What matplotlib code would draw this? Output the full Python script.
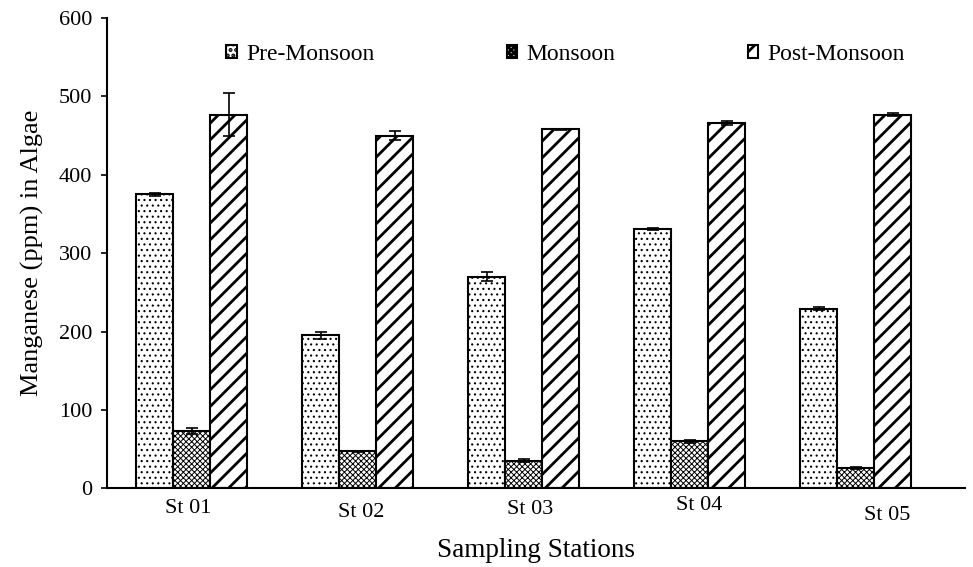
import numpy as np
import matplotlib
matplotlib.use("Agg")
import matplotlib.pyplot as plt
import matplotlib.transforms as mtransforms

stations = ["St 01", "St 02", "St 03", "St 04", "St 05"]
pre_monsoon = [375, 195, 270, 331, 229]
pre_err = [2, 4, 6, 1, 2]
monsoon = [73, 47, 35, 60, 26]
monsoon_err = [4, 1, 2, 2, 1]
post_monsoon = [477, 450, 458, 466, 477]
post_err = [28, 6, 1, 3, 2]

plt.rcParams["font.family"] = ["Liberation Serif", "DejaVu Serif"]
plt.rcParams["hatch.color"] = "black"

fig = plt.figure(figsize=(9.73, 5.67), dpi=100)
ax = fig.add_axes([0.110, 0.139, 0.882, 0.829])

x = np.arange(len(stations))
w = 0.223
err_kw = dict(ecolor="black", elinewidth=1.2, capsize=4.5, capthick=1.2)

plt.rcParams["hatch.linewidth"] = 0.8
ax.bar(x - w, pre_monsoon, w, yerr=pre_err, color="white", edgecolor="black",
       linewidth=1.5, hatch="...", label="Pre-Monsoon", error_kw=err_kw)
plt.rcParams["hatch.linewidth"] = 0.7
ax.bar(x, monsoon, w, yerr=monsoon_err, color="white", edgecolor="black",
       linewidth=1.5, hatch="xxxxxx", label="Monsoon", error_kw=err_kw)
plt.rcParams["hatch.linewidth"] = 2.0
ax.bar(x + w, post_monsoon, w, yerr=post_err, color="white", edgecolor="black",
       linewidth=1.5, hatch="//", label="Post-Monsoon", error_kw=err_kw)

ax.set_xlim(-0.509, 4.66)
ax.set_ylim(0, 600)
ax.set_yticks(np.arange(0, 601, 100))
ax.tick_params(axis="y", labelsize=16, length=4.5, width=1.2, pad=6, direction="out")
ax.tick_params(axis="x", labelsize=16, length=0, pad=8)

# station labels sit a little unevenly under the groups
dx = [-0.02, 0.02, 0.04, 0.055, 0.19]
dy = [0, -4, -1, 3, -7]
ax.set_xticks(x + np.array(dx))
ax.set_xticklabels(stations)
for lab, oy in zip(ax.get_xticklabels(), dy):
    lab.set_transform(lab.get_transform() +
                      mtransforms.ScaledTranslation(0, oy / 100, fig.dpi_scale_trans))

for s in ["top", "right"]:
    ax.spines[s].set_visible(False)
for s in ["left", "bottom"]:
    ax.spines[s].set_linewidth(1.5)

ax.set_ylabel("Manganese (ppm) in Algae", fontsize=19, labelpad=11)
ax.set_xlabel("Sampling Stations", fontsize=19.5, labelpad=9)

ax.legend(loc="upper left", bbox_to_anchor=(226 / 973, 1 - 44 / 567),
          bbox_transform=fig.transFigure, ncol=3, frameon=False,
          fontsize=17, handlelength=0.45, handleheight=0.45, handletextpad=0.4,
          columnspacing=5.6, borderpad=0, borderaxespad=0)

fig.savefig("out.png", dpi=100)
